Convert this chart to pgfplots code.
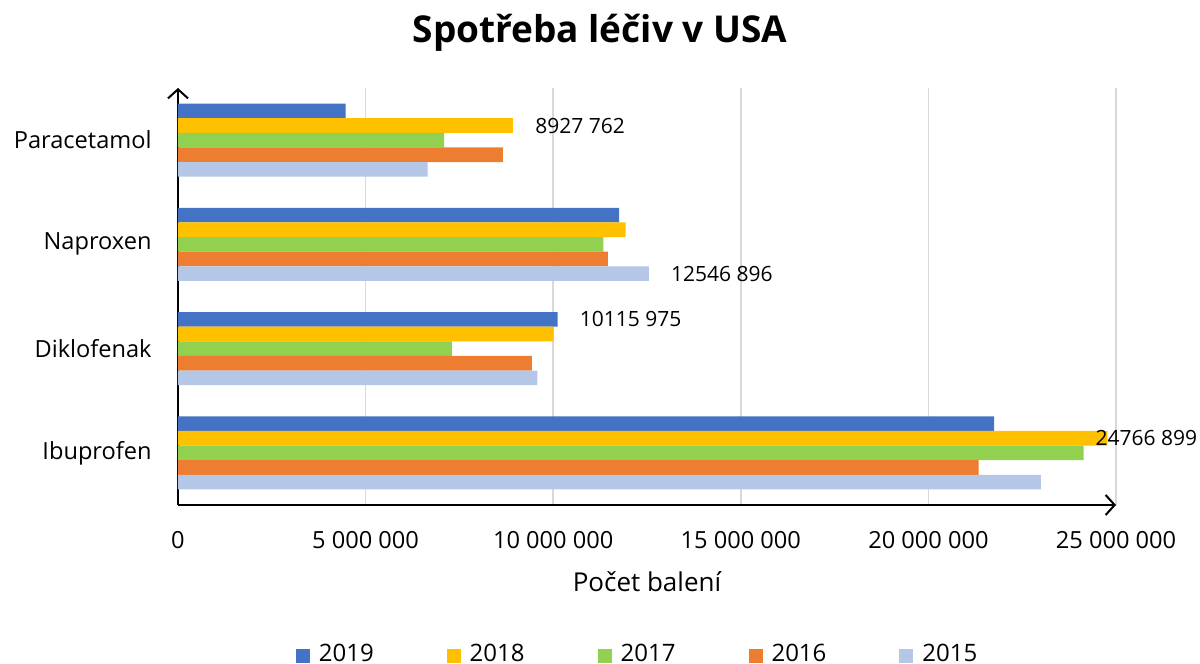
\documentclass[border=0pt]{standalone}
\usepackage{fontspec}
\setmainfont{Open Sans}
\usepackage{pgfplots}
\usepackage{pgfplotstable}
\pgfplotsset{compat=1.18}
\usetikzlibrary{arrows.meta}
\definecolor{c2019}{HTML}{4472C4}
\definecolor{c2018}{HTML}{FFC000}
\definecolor{c2017}{HTML}{92D050}
\definecolor{c2016}{HTML}{ED7D31}
\definecolor{c2015}{HTML}{B4C7E7}
\definecolor{gridc}{HTML}{D9D9D9}
\pgfplotstableread{
y v2019 v2018 v2017 v2016 v2015
0 21750000 24766899 24140000 21340000 23000000
1 10115975 10010000 7300000 9430000 9580000
2 11760000 11930000 11340000 11460000 12546896
3 4470000 8927762 7090000 8660000 6650000
}\data
\begin{document}
\begin{tikzpicture}
\begin{axis}[
  at={(0,0)}, anchor=south west, scale only axis,
  width=469pt, height=208.5pt,
  xbar, bar width=0.14,
  xmin=0, xmax=25000000, ymin=-0.5, ymax=3.5,
  axis lines=left,
  axis line style={line width=1pt, -{Straight Barb[length=4.5pt,width=10pt,line width=1pt]}},
  xtick={0,5000000,10000000,15000000,20000000,25000000},
  scaled x ticks=false,
  xticklabels={0,5 000 000,10 000 000,15 000 000,20 000 000,25 000 000},
  ytick={0,1,2,3},
  yticklabels={Ibuprofen,Diklofenak,Naproxen,Paracetamol},
  major tick length=0pt,
  xmajorgrids, grid style={gridc, line width=0.75pt},
  xticklabel style={font=\fontsize{11.8pt}{14pt}\selectfont, anchor=center, yshift=-17.5pt},
  yticklabel style={font=\fontsize{11.8pt}{14pt}\selectfont, anchor=east, inner sep=0pt, xshift=-13pt},
  xlabel={Počet balení},
  xlabel style={font=\fontsize{13pt}{15pt}\selectfont, at={(axis description cs:0.5,-0.185)}, anchor=center},
  clip=false,
  legend columns=5,
  legend style={at={(0.4905,-0.357)}, anchor=center, draw=none,
    font=\fontsize{12pt}{14pt}\selectfont,
    nodes={inner sep=1.5pt},
    /tikz/every even column/.append style={column sep=35pt}},
  legend image code/.code={\fill[#1] (0pt,-4.5pt) rectangle (7pt,2.5pt); \path (10pt,0pt);},
]
\addplot[fill=c2019, draw=none, bar shift=0.28] table[x=v2019, y=y] {\data};
\addplot[fill=c2018, draw=none, bar shift=0.14] table[x=v2018, y=y] {\data};
\addplot[fill=c2017, draw=none, bar shift=0] table[x=v2017, y=y] {\data};
\addplot[fill=c2016, draw=none, bar shift=-0.14] table[x=v2016, y=y] {\data};
\addplot[fill=c2015, draw=none, bar shift=-0.28] table[x=v2015, y=y] {\data};
\legend{2019,2018,2017,2016,2015}
\node[anchor=west, inner sep=0pt, xshift=11pt, font=\fontsize{10.5pt}{12pt}\selectfont] at (axis cs:8927762,3.14) {8927 762};
\node[anchor=west, inner sep=0pt, xshift=11pt, font=\fontsize{10.5pt}{12pt}\selectfont] at (axis cs:12546896,1.72) {12546 896};
\node[anchor=west, inner sep=0pt, xshift=11pt, font=\fontsize{10.5pt}{12pt}\selectfont] at (axis cs:10115975,1.28) {10115 975};
\node[anchor=west, inner sep=0pt, xshift=-6pt, font=\fontsize{10.5pt}{12pt}\selectfont] at (axis cs:24766899,0.14) {24766 899};
\end{axis}
\node[font=\bfseries\fontsize{18.5pt}{22pt}\selectfont] at (211pt,236pt) {Spotřeba léčiv v USA};
\pgfresetboundingbox
\useasboundingbox (-89pt,-79.5pt) rectangle (511pt,252.5pt);
\end{tikzpicture}
\end{document}
